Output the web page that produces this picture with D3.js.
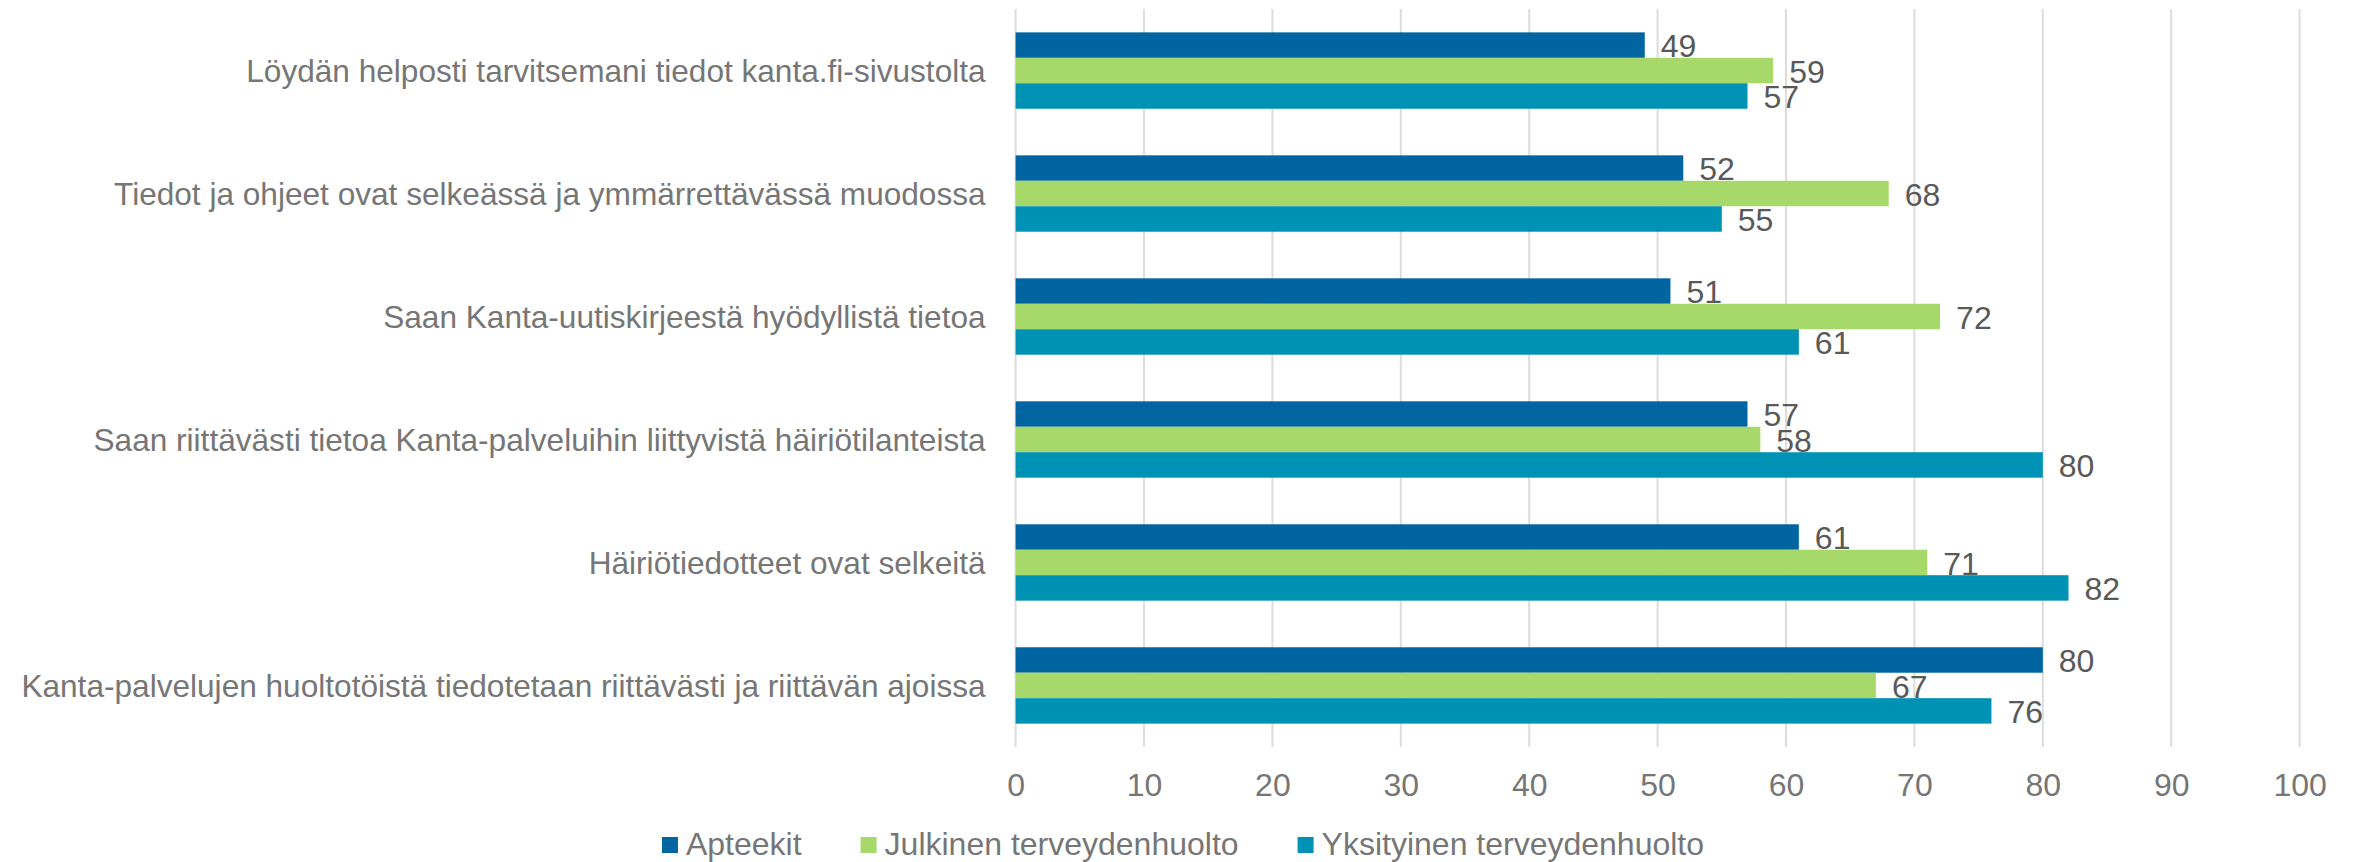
<!DOCTYPE html>
<html>
<head>
<meta charset="utf-8">
<script src="https://cdn.jsdelivr.net/npm/d3@7"></script>
<style>
  body { margin: 0; background: #fff; }
  svg { display: block; font-family: "Liberation Sans", Arial, sans-serif; }
</style>
</head>
<body>
<svg width="2354" height="862"></svg>
<script>
var categories = [
  "Löydän helposti tarvitsemani tiedot kanta.fi-sivustolta",
  "Tiedot ja ohjeet ovat selkeässä ja ymmärrettävässä muodossa",
  "Saan Kanta-uutiskirjeestä hyödyllistä tietoa",
  "Saan riittävästi tietoa Kanta-palveluihin liittyvistä häiriötilanteista",
  "Häiriötiedotteet ovat selkeitä",
  "Kanta-palvelujen huoltotöistä tiedotetaan riittävästi ja riittävän ajoissa"
];
var seriesNames = ["Apteekit", "Julkinen terveydenhuolto", "Yksityinen terveydenhuolto"];
var apteekit   = [49, 52, 51, 57, 61, 80];
var julkinen   = [59, 68, 72, 58, 71, 67];
var yksityinen = [57, 55, 61, 80, 82, 76];
var xTicks = [0, 10, 20, 30, 40, 50, 60, 70, 80, 90, 100];
var colors = ["#0065a1", "#a6d86a", "#0092b4"];

var seriesValues = [apteekit, julkinen, yksityinen];

var svg = d3.select("svg"),
    margin = {top: 9, left: 1015.6, right: 54.4},
    plotBottom = 747;

var x = d3.scaleLinear().domain([0, 100]).range([margin.left, 2354 - margin.right]);
var y = d3.scaleBand().domain(categories).range([margin.top, plotBottom])
    .paddingInner(0.379).paddingOuter(0.19);
var ySub = d3.scaleBand().domain(seriesNames).range([0, y.bandwidth()]);
var color = d3.scaleOrdinal().domain(seriesNames).range(colors);

// gridlines
svg.append("g").selectAll("line")
  .data(xTicks)
  .enter().append("line")
    .attr("x1", function(d){ return x(d); })
    .attr("x2", function(d){ return x(d); })
    .attr("y1", margin.top)
    .attr("y2", plotBottom)
    .attr("stroke", "#dcdcdc")
    .attr("stroke-width", 2);

// x axis labels
var xAxis = d3.axisBottom(x).tickValues(xTicks).tickSize(0).tickPadding(0);
var ax = svg.append("g").attr("transform", "translate(0," + 773 + ")").call(xAxis);
ax.select(".domain").remove();
ax.selectAll("text")
  .attr("font-size", 32)
  .attr("fill", "#767676")
  .attr("dy", "0.71em")
  .attr("font-family", "Liberation Sans, Arial, sans-serif");

// category labels
svg.append("g").selectAll("text")
  .data(categories)
  .enter().append("text")
    .attr("x", x(0) - 30)
    .attr("y", function(d){ return y(d) + y.bandwidth() / 2; })
    .attr("dy", "0.36em")
    .attr("text-anchor", "end")
    .attr("font-size", 31.6)
    .attr("fill", "#767676")
    .text(function(d){ return d; });

// bars
var rows = [];
categories.forEach(function(c, i) {
  seriesNames.forEach(function(s, j) {
    rows.push({cat: c, series: s, value: seriesValues[j][i]});
  });
});

svg.append("g").selectAll("rect")
  .data(rows)
  .enter().append("rect")
    .attr("x", x(0))
    .attr("y", function(d){ return y(d.cat) + ySub(d.series); })
    .attr("width", function(d){ return x(d.value) - x(0); })
    .attr("height", ySub.bandwidth())
    .attr("fill", function(d){ return color(d.series); });

// value labels
svg.append("g").selectAll("text")
  .data(rows)
  .enter().append("text")
    .attr("x", function(d){ return x(d.value) + 16; })
    .attr("y", function(d){ return y(d.cat) + ySub(d.series) + ySub.bandwidth() / 2; })
    .attr("dy", "0.38em")
    .attr("font-size", 32)
    .attr("fill", "#595959")
    .text(function(d){ return d.value; });

// legend
var legend = svg.append("g");
var items = legend.selectAll("g")
  .data(seriesNames)
  .enter().append("g");
items.append("rect")
  .attr("width", 16).attr("height", 16)
  .attr("y", 837)
  .attr("fill", function(d){ return color(d); });
items.append("text")
  .attr("x", 24)
  .attr("y", 855)
  .attr("font-size", 32)
  .attr("fill", "#767676")
  .text(function(d){ return d; });

var pos = 0, offsets = [];
items.each(function(d) {
  offsets.push(pos);
  pos += 24 + d3.select(this).select("text").node().getComputedTextLength() + 59;
});
var total = pos - 59;
var start = 1183 - total / 2;
items.attr("transform", function(d, i){ return "translate(" + (start + offsets[i]) + ",0)"; });
</script>
</body>
</html>
